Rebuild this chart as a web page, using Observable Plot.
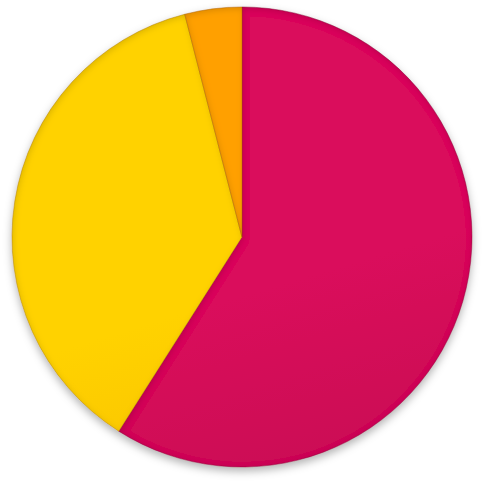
<!DOCTYPE html>
<html>
<head>
<meta charset="utf-8">
<script src="https://cdn.jsdelivr.net/npm/d3@7"></script>
<script src="https://cdn.jsdelivr.net/npm/@observablehq/plot@0.6"></script>
<style>
  html, body { margin: 0; padding: 0; background: #fff; }
  #chart svg { display: block; }
</style>
</head>
<body>
<div id="chart"></div>
<script>
const categories = ["A", "B", "C"];
const values = [59, 37, 4];
const topColors = ["#da115b", "#ffd200", "#ffa000"];
const bottomColors = ["#b30e4b", "#efa800", "#ee8600"];
const edgeColors = ["#8a0c3a", "#b88000", "#b86400"];

const data = categories.map((c, i) => ({category: c, value: values[i]}));

function pieMark(index, scales, chValues, dimensions, context) {
  const cx = scales.x(0), cy = scales.y(0);
  const r = Math.abs(scales.x(1) - scales.x(0));
  const g = d3.create("svg:g");
  const defs = g.append("defs");
  categories.forEach((c, i) => {
    const lg = defs.append("linearGradient")
      .attr("id", "grad" + i)
      .attr("gradientUnits", "userSpaceOnUse")
      .attr("x1", cx - r * 0.3).attr("y1", cy - r)
      .attr("x2", cx + r * 0.3).attr("y2", cy + r);
    lg.append("stop").attr("offset", "0%").attr("stop-color", topColors[i]);
    lg.append("stop").attr("offset", "100%").attr("stop-color", bottomColors[i]);
  });
  const f = defs.append("filter").attr("id", "bevel")
    .attr("x", "-10%").attr("y", "-10%").attr("width", "120%").attr("height", "120%");
  f.append("feGaussianBlur").attr("in", "SourceAlpha").attr("stdDeviation", 3).attr("result", "blur");
  f.append("feOffset").attr("in", "blur").attr("dx", 1).attr("dy", 2).attr("result", "off");
  f.append("feComposite").attr("in", "SourceAlpha").attr("in2", "off").attr("operator", "out").attr("result", "edge");
  f.append("feFlood").attr("flood-color", "#000").attr("flood-opacity", 0.3).attr("result", "col");
  f.append("feComposite").attr("in", "col").attr("in2", "edge").attr("operator", "in").attr("result", "shade");
  const m = f.append("feMerge");
  m.append("feMergeNode").attr("in", "SourceGraphic");
  m.append("feMergeNode").attr("in", "shade");

  const sh = defs.append("filter").attr("id", "shadow")
    .attr("x", "-10%").attr("y", "-10%").attr("width", "120%").attr("height", "125%");
  sh.append("feDropShadow").attr("dx", 0).attr("dy", 4).attr("stdDeviation", 4)
    .attr("flood-color", "#000").attr("flood-opacity", 0.3);

  const pie = d3.pie().sort(null).value(d => d.value)(data);
  const arc = d3.arc().innerRadius(0).outerRadius(r);
  const outer = g.append("g").attr("filter", "url(#shadow)")
    .attr("transform", `translate(${cx},${cy})`);
  outer.selectAll("path")
    .data(pie)
    .join("path")
    .attr("d", arc)
    .attr("fill", (d, i) => `url(#grad${i})`)
    .attr("stroke", (d, i) => edgeColors[i])
    .attr("stroke-opacity", 0.5)
    .attr("stroke-width", 0.8)
    .attr("filter", "url(#bevel)");
  return g.node();
}

const chart = Plot.plot({
  width: 484,
  height: 484,
  margin: 0,
  x: {domain: [-242 / 230, 242 / 230], axis: null},
  y: {domain: [(484 - 237) / 230, -237 / 230], range: [484, 0], axis: null},
  marks: [
    Plot.dot([{x: 0, y: 0}], {x: "x", y: "y", r: 0, stroke: "none"}),
    pieMark
  ]
});
document.getElementById("chart").appendChild(chart);
</script>
</body>
</html>
